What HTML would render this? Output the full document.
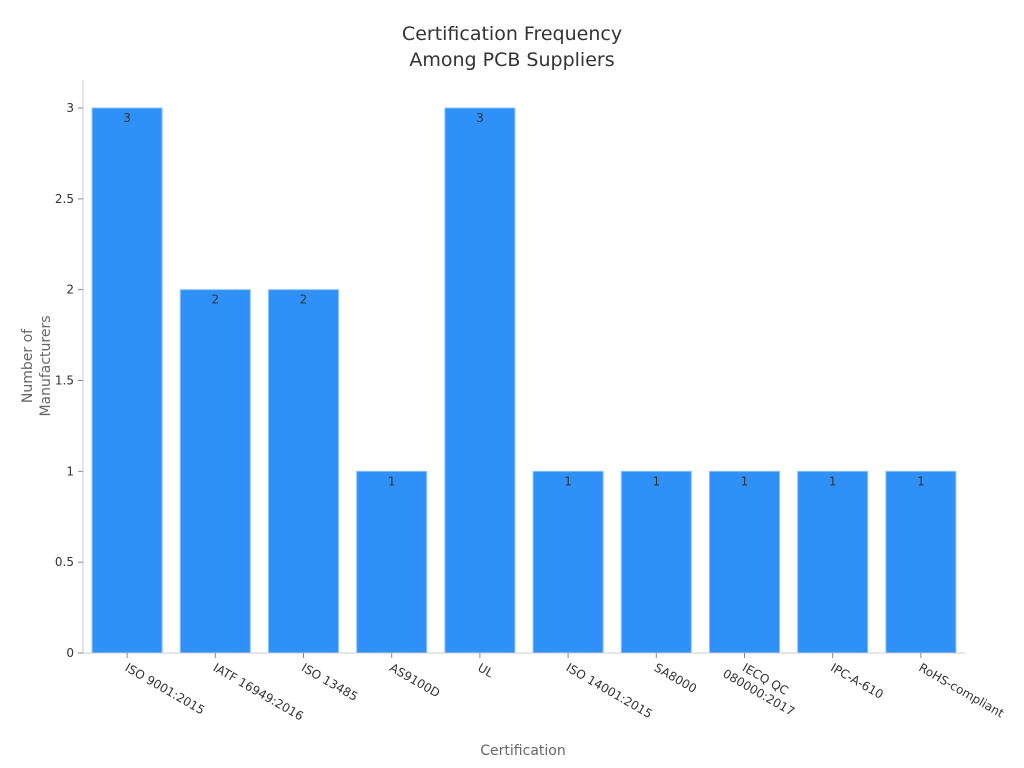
<!DOCTYPE html>
<html><head><meta charset="utf-8"><style>
body{margin:0;background:#fff;}
svg{display:block;font-family:"DejaVu Sans","Liberation Sans",sans-serif;}
</style></head><body>
<svg id="chart" width="1024" height="768">
<text x="512" y="40" text-anchor="middle" font-size="19" fill="#333">Certification Frequency</text>
<text x="512" y="66" text-anchor="middle" font-size="19" fill="#333">Among PCB Suppliers</text>
<g id="yaxis"></g>
<g id="bars"></g>
<g id="xaxis"></g>
<text transform="translate(36,366) rotate(-90)" text-anchor="middle" font-size="14" fill="#666"><tspan x="0" dy="-4">Number of</tspan><tspan x="0" dy="18">Manufacturers</tspan></text>
<text x="523" y="755" text-anchor="middle" font-size="14" fill="#666">Certification</text>
</svg>
<script>
const categories=["ISO 9001:2015","IATF 16949:2016","ISO 13485","AS9100D","UL","ISO 14001:2015","SA8000","IECQ QC 080000:2017","IPC-A-610","RoHS-compliant"];
const values=[3,2,2,1,3,1,1,1,1,1];
const yTicks=[0,0.5,1,1.5,2,2.5,3];
const yTickLabels=["0","0.5","1","1.5","2","2.5","3"];
const NS="http://www.w3.org/2000/svg";
const L=83,R=965,T=80,B=653,yMax=3;
const yS=v=>B-(v/yMax)*(B-108);
const band=(R-L)/categories.length;
const xS=i=>L+band*i+band/2;
function mk(tag,attrs,parent){const e=document.createElementNS(NS,tag);for(const k in attrs)e.setAttribute(k,attrs[k]);parent.appendChild(e);return e;}
const ya=document.getElementById('yaxis'),xa=document.getElementById('xaxis'),bg=document.getElementById('bars');
const yl=mk('line',{x1:L,y1:T,x2:L,y2:B,stroke:'#ccc'},ya);


const xl=mk('line',{x1:L,y1:B,x2:R,y2:B,stroke:'#ccc'},xa);


yTicks.forEach((t,i)=>{
 const tk=mk('line',{x1:L-5,y1:yS(t),x2:L,y2:yS(t),stroke:'#888'},ya);
 
 
 const tx=mk('text',{x:L-9,y:yS(t)+4,'text-anchor':'end','font-size':12,fill:'#333'},ya);
 tx.textContent=yTickLabels[i];
 
 
});
categories.forEach((c,i)=>{
 const cx=xS(i),w=70;
 const r=mk('rect',{x:cx-w/2,y:yS(values[i]),width:w,height:B-yS(values[i]),fill:'#2f91f8',stroke:'#8cc2fb','stroke-width':1},bg);
 
 
 const v=mk('text',{x:cx,y:yS(values[i])+14,'text-anchor':'middle','font-size':12,fill:'#333'},bg);
 v.textContent=values[i];
 
 
 const tk=mk('line',{x1:cx,y1:B,x2:cx,y2:B+5,stroke:'#888'},xa);
 
 
 const t=mk('text',{transform:`translate(${cx-3},${B+17}) rotate(30)`,'font-size':12,fill:'#333'},xa);
 
 
 if(c==="IECQ QC 080000:2017"){
  const a=mk('tspan',{x:0,dy:0},t);a.textContent="IECQ QC";
  const b=mk('tspan',{x:-14,dy:15},t);b.textContent="080000:2017";
 } else t.textContent=c;
});
</script>
</body></html>
